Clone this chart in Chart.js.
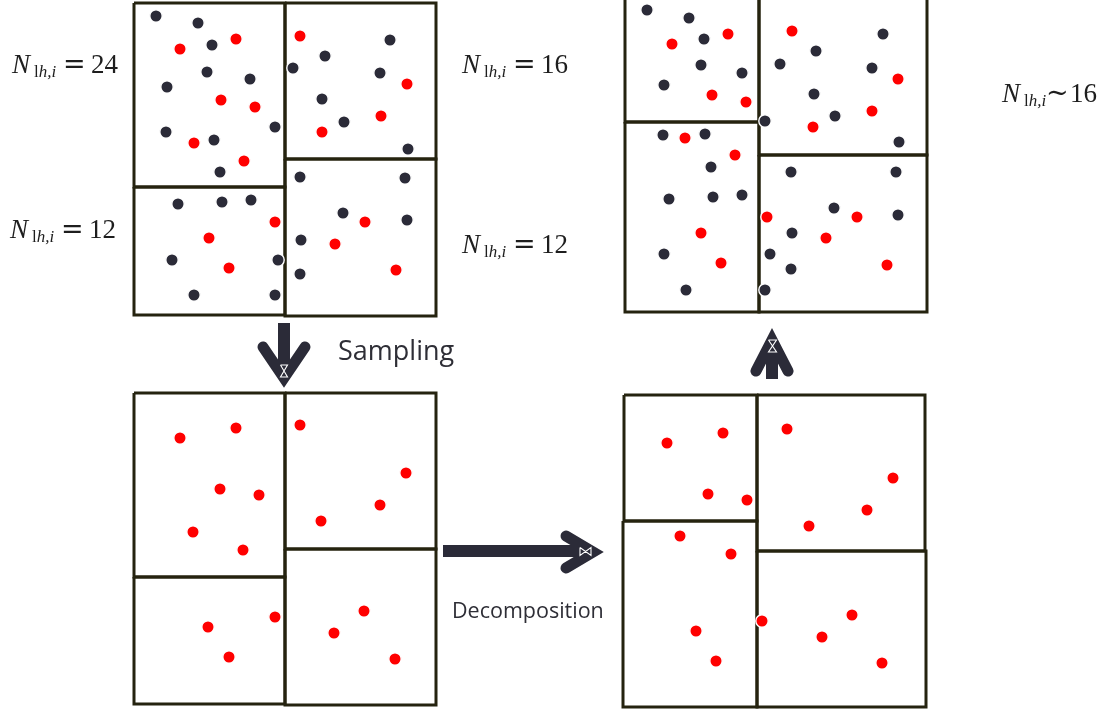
<!DOCTYPE html>
<html>
<head>
<meta charset="utf-8">
<script src="https://cdn.jsdelivr.net/npm/chart.js@4.4.1/dist/chart.umd.min.js"></script>
<style>
  html, body { margin: 0; padding: 0; background: #ffffff; }
  canvas { display: block; }
</style>
</head>
<body>
<canvas id="sceneChart" width="1100" height="715"></canvas>
<script>
// points of the original field (top left), as [x, y] in picture units
const originalDark = [
    [156, 16], [198, 23], [212, 45], [207, 72], [167, 87], [250, 79], [275, 127], [166, 132], [214, 140], [220, 172],
    [390, 40], [325, 56], [293, 68], [380, 73], [322, 99], [344, 122], [408, 149],
    [178, 204], [222, 202], [251, 200], [172, 260], [278, 260], [194, 295], [275, 295],
    [300, 177], [405, 178], [343, 213], [407, 220], [301, 240], [300, 274],
];
const originalRed = [
    [180, 49], [236, 39], [221, 100], [255, 107], [194, 143], [244, 161],
    [300, 36], [407, 84], [381, 116], [322, 132],
    [275, 222], [209, 238], [229, 268],
    [365, 222], [335, 244], [396, 270],
];

// sampled points (bottom left)
const sampledRed = [
    [180, 438], [236, 428], [220, 489], [259, 495], [193, 532], [243, 550],
    [300, 425], [406, 473], [380, 505], [321, 521],
    [275, 617], [208, 627], [229, 657],
    [364, 611], [334, 633], [395, 659],
];

// decomposed sample (bottom right)
const decomposedRed = [
    [667, 443], [723, 433], [708, 494], [747, 500],
    [787, 429], [893, 478], [867, 510], [809, 526],
    [680, 536], [731, 554], [696, 631], [716, 661],
    [762, 621], [852, 615], [822, 637], [882, 663],
];

// field re-partitioned with the new boxes (top right)
const resultDark = [
    [647, 10], [689, 18], [704, 39], [701, 65], [742, 73], [664, 85],
    [883, 34], [816, 51], [780, 64], [872, 68], [814, 94], [835, 116], [765, 121], [899, 142],
    [663, 135], [705, 134], [711, 167], [669, 199], [713, 197], [742, 195], [664, 254], [686, 290],
    [791, 172], [896, 172], [834, 208], [898, 215], [792, 233], [770, 254], [791, 269], [765, 290],
];
const resultRed = [
    [672, 44], [728, 34], [712, 95], [746, 102],
    [792, 31], [898, 79], [872, 111], [813, 127],
    [685, 138], [735, 155], [701, 233], [721, 263],
    [857, 217], [767, 217], [826, 238], [887, 265],
];

// boxes as [x0, y0, x1, y1]
const originalBoxes = [[134, 3, 285, 187], [134, 187, 285, 315], [285, 3, 436, 159], [285, 159, 436, 316]];
const sampledBoxes = [[134, 393, 285, 577], [134, 577, 285, 704], [285, 393, 436, 549], [285, 549, 436, 705]];
const decomposedBoxes = [[624, 395, 757, 521], [623, 521, 757, 707], [757, 395, 925, 551], [757, 551, 926, 707]];
const resultBoxes = [[625, -3, 759, 122], [625, 122, 759, 312], [759, -3, 927, 155], [759, 155, 927, 312]];

// arrows: shaft, head and the little white hourglass in the shaft
const samplingShaft = [[284, 323], [284, 372]];
const samplingHead = [[263, 347], [284, 378], [305, 347]];
const samplingMark = [[280.5, 365], [287.5, 365], [280.5, 377], [287.5, 377], [280.5, 365]];
const decompShaft = [[443, 551], [588, 551]];
const decompHead = [[566, 536], [593, 552], [566, 568]];
const decompMark = [[580, 547.5], [580, 555.5], [591, 547.5], [591, 555.5], [580, 547.5]];
const upShaft = [[772, 379], [772, 345]];
const upHead = [[756, 371], [772, 340], [788, 371]];
const upMark = [[768.5, 340], [776.5, 340], [768.5, 352], [776.5, 352], [768.5, 340]];

// count labels
const countValues = ['24', '16', '12', '12', '16'];
const countSigns = ['=', '=', '=', '=', '~'];

const DARK = '#2b2b38';
const RED = '#ff0000';
const EDGE = '#25230f';

const toXY = pts => pts.map(p => ({ x: p[0], y: p[1] }));

function boxDatasets(boxes) {
    return boxes.map(b => ({
        data: toXY([[b[0], b[1]], [b[2], b[1]], [b[2], b[3]], [b[0], b[3]], [b[0], b[1]]]),
        showLine: true,
        borderColor: EDGE,
        borderWidth: 3,
        borderJoinStyle: 'miter',
        pointRadius: 0,
        order: 5,
    }));
}

function dotDataset(pts, color) {
    return {
        data: toXY(pts),
        showLine: false,
        pointRadius: 6.2,
        pointBackgroundColor: color,
        pointBorderColor: '#ffffff',
        pointBorderWidth: 1.4,
        order: 1,
    };
}

function arrowDatasets(shaft, head, mark) {
    return [
        { data: toXY(shaft), showLine: true, borderColor: DARK, borderWidth: 12, borderCapStyle: 'butt', pointRadius: 0, order: 3 },
        { data: toXY(head), showLine: true, borderColor: DARK, borderWidth: 11, borderCapStyle: 'round', borderJoinStyle: 'miter', pointRadius: 0, order: 3 },
        { data: toXY(mark), showLine: true, borderColor: '#ffffff', borderWidth: 1.1, pointRadius: 0, order: 2 },
    ];
}

const datasets = [
    ...boxDatasets(originalBoxes),
    ...boxDatasets(sampledBoxes),
    ...boxDatasets(decomposedBoxes),
    ...boxDatasets(resultBoxes),
    ...arrowDatasets(samplingShaft, samplingHead, samplingMark),
    ...arrowDatasets(decompShaft, decompHead, decompMark),
    ...arrowDatasets(upShaft, upHead, upMark),
    dotDataset(originalDark, DARK),
    dotDataset(originalRed, RED),
    dotDataset(sampledRed, RED),
    dotDataset(decomposedRed, RED),
    dotDataset(resultDark, DARK),
    dotDataset(resultRed, RED),
];

// where the count labels sit (left of N, baseline)
const countSpots = [[12, 73], [462, 73], [10, 238], [462, 253], [1002, 102]];

const textPlugin = {
    id: 'sceneText',
    afterDatasetsDraw(chart) {
        const ctx = chart.ctx;
        const xs = chart.scales.x;
        const ys = chart.scales.y;
        ctx.save();
        ctx.textBaseline = 'alphabetic';
        ctx.textAlign = 'left';

        countValues.forEach((val, i) => {
            const x = xs.getPixelForValue(countSpots[i][0]);
            const y = ys.getPixelForValue(countSpots[i][1]);
            const tight = countSigns[i] === '~';
            ctx.fillStyle = '#1e1e1e';
            ctx.font = 'italic 27px "Liberation Serif"';
            ctx.fillText('N', x, y);
            ctx.font = '17px "Liberation Serif"';
            ctx.fillText('l', x + 22, y + 4);
            const lw = ctx.measureText('l').width;
            ctx.font = 'italic 17px "Liberation Serif"';
            ctx.fillText('h,i', x + 22 + lw, y + 4);
            ctx.font = '27px "DejaVu Serif"';
            ctx.fillText(countSigns[i], x + (tight ? 44 : 51), y);
            ctx.font = '27px "Liberation Serif"';
            ctx.fillText(val, x + (tight ? 68 : 79), y);
        });

        ctx.fillStyle = '#2e2e36';
        ctx.font = '27px "Open Sans"';
        ctx.fillText('Sampling', xs.getPixelForValue(338), ys.getPixelForValue(360));
        ctx.font = '21.5px "Open Sans"';
        ctx.fillText('Decomposition', xs.getPixelForValue(452), ys.getPixelForValue(618));
        ctx.restore();
    },
};

const ctx = document.getElementById('sceneChart').getContext('2d');
const sceneChart = new Chart(ctx, {
    type: 'scatter',
    data: { datasets: datasets },
    options: {
        responsive: false,
        animation: false,
        events: [],
        layout: { padding: 0, autoPadding: false },
        plugins: {
            legend: { display: false },
            tooltip: { enabled: false },
        },
        elements: { line: { tension: 0 } },
        scales: {
            x: { type: 'linear', min: 0, max: 1100, display: false },
            y: { type: 'linear', min: 0, max: 715, reverse: true, display: false },
        },
    },
    plugins: [textPlugin],
});
</script>
</body>
</html>
